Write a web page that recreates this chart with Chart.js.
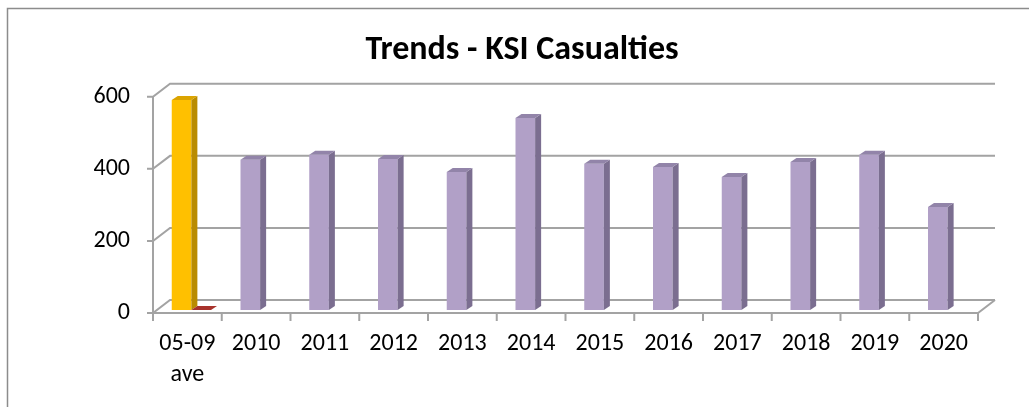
<!DOCTYPE html>
<html>
<head>
<meta charset="utf-8">
<title>Trends - KSI Casualties</title>
<script src="https://cdn.jsdelivr.net/npm/chart.js@4/dist/chart.umd.min.js"></script>
<style>
html,body{margin:0;padding:0;background:#fff;}
canvas{display:block;}
</style>
</head>
<body>
<canvas id="ksiChart" width="1029" height="407"></canvas>
<script>

// data
const categories = [["05-09","ave"],"2010","2011","2012","2013","2014","2015","2016","2017","2018","2019","2020"];
const ksiCasualties = [583,417,431,419,383,533,406,397,369,411,431,286];
const secondSeries = [0,null,null,null,null,null,null,null,null,null,null,null];
const yTicks = [0,200,400,600];

// 3d look
const WALL_DX = 17, WALL_DY = 13;   // back wall offset from the front edge
const BAR_SHIFT_X = 4, BAR_SHIFT_Y = 3; // bars sit a little behind the front edge
const BAR_DX = 6, BAR_DY = 4;       // bar thickness
const gridColor = "#a3a3a3";

const fronts = ksiCasualties.map((v,i)=> i===0 ? "#ffc000" : "#b1a0c7");
const sides = ksiCasualties.map((v,i)=> i===0 ? "#b98b00" : "#7b6e90");
const tops = ksiCasualties.map((v,i)=> i===0 ? "#dba400" : "#9284a9");

const frame = {
id:"frame",
beforeDraw(chart){
const ctx=chart.ctx;
ctx.save();
ctx.fillStyle="#fff";
ctx.fillRect(0,0,chart.width,chart.height);
ctx.strokeStyle="#8c8c8c";
ctx.lineWidth=1.5;
ctx.strokeRect(7.5,8.5,chart.width+20,chart.height+20);
ctx.restore();
}
};

const walls = {
id:"walls",
beforeDatasetsDraw(chart){
const ctx=chart.ctx;
const {left,right,bottom}=chart.chartArea;
const y=chart.scales.y;
ctx.save();
ctx.strokeStyle=gridColor;
ctx.lineWidth=2;
// back wall gridlines with the side diagonals and value ticks
yTicks.forEach(v=>{
const py=y.getPixelForValue(v);
ctx.beginPath();
ctx.moveTo(left-6,py);
ctx.lineTo(left,py);
ctx.lineTo(left+WALL_DX,py-WALL_DY);
ctx.lineTo(right+WALL_DX,py-WALL_DY);
ctx.stroke();
});
// front value axis
ctx.beginPath();
ctx.moveTo(left,y.getPixelForValue(yTicks[yTicks.length-1]));
ctx.lineTo(left,bottom);
ctx.stroke();
// floor front edge and right side
ctx.beginPath();
ctx.moveTo(left,bottom);
ctx.lineTo(right,bottom);
ctx.lineTo(right+WALL_DX,bottom-WALL_DY);
ctx.stroke();
// category ticks
const step=(right-left)/categories.length;
for(let k=0;k<=categories.length;k++){
const px=left+k*step;
ctx.beginPath();
ctx.moveTo(px,bottom);
ctx.lineTo(px,bottom+8);
ctx.stroke();
}
ctx.restore();
ctx.save();
ctx.translate(BAR_SHIFT_X,-BAR_SHIFT_Y);
},
afterDatasetsDraw(chart){
const ctx=chart.ctx;
chart.data.datasets.forEach((ds,di)=>{
const meta=chart.getDatasetMeta(di);
meta.data.forEach((bar,i)=>{
if(ds.data[i]===null) return;
const {x,y,base,width}=bar.getProps(["x","y","base","width"],true);
const l=x-width/2, r=x+width/2;
// side face
if(base-y>0){
ctx.fillStyle=ds.sideColor[i];
ctx.beginPath();
ctx.moveTo(r,y);
ctx.lineTo(r+BAR_DX,y-BAR_DY);
ctx.lineTo(r+BAR_DX,base-BAR_DY);
ctx.lineTo(r,base);
ctx.closePath();
ctx.fill();
}
// top face
ctx.fillStyle=ds.topColor[i];
ctx.beginPath();
ctx.moveTo(l,y);
ctx.lineTo(r,y);
ctx.lineTo(r+BAR_DX,y-BAR_DY);
ctx.lineTo(l+BAR_DX,y-BAR_DY);
ctx.closePath();
ctx.fill();
});
});
ctx.restore();
}
};

const tickFont={family:"Carlito, Lato, 'Liberation Sans', sans-serif",size:24,lineHeight:1.3};

new Chart(document.getElementById("ksiChart"),{
type:"bar",
data:{
labels:categories,
datasets:[
{
label:"KSI Casualties",
data:ksiCasualties,
backgroundColor:fronts,
sideColor:sides,
topColor:tops,
borderWidth:0,
clip:false
},
{
label:"Other",
data:secondSeries,
backgroundColor:"#c0504d",
sideColor:["#8e2a25"],
topColor:["#a8322c"],
borderWidth:0,
clip:false
}
]
},
options:{
responsive:false,
animation:false,
devicePixelRatio:1,
layout:{padding:{left:66,right:51,top:8,bottom:0}},
categoryPercentage:0.571,
barPercentage:1,
plugins:{
legend:{display:false},
tooltip:{enabled:false},
title:{
display:true,
text:"Trends - KSI Casualties",
color:"#000",
font:{family:"Carlito, Lato, 'Liberation Sans', sans-serif",size:34,weight:"bold",lineHeight:1.2},
padding:{top:22,bottom:26}
}
},
scales:{
x:{
offset:true,
grid:{display:false,drawTicks:false},
border:{display:false},
ticks:{color:"#000",font:tickFont,padding:15,maxRotation:0,autoSkip:false},
afterFit(scale){scale.height=94;}
},
y:{
min:0,
max:600,
grid:{display:false,drawTicks:false},
border:{display:false},
ticks:{color:"#000",font:tickFont,padding:23,stepSize:200},
afterFit(scale){scale.width=87;}
}
}
},
plugins:[frame,walls]
});
</script>
</body>
</html>
